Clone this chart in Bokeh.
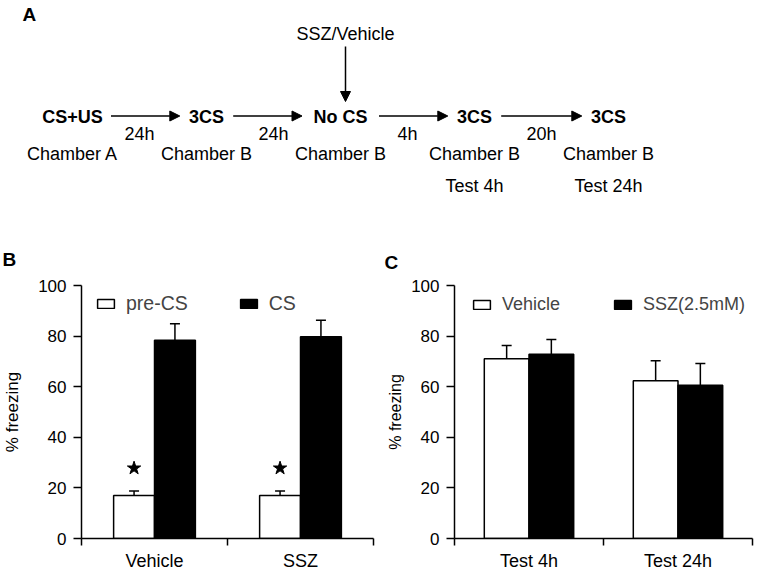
from bokeh.plotting import figure
from bokeh.models import (Range1d, FixedTicker, ColumnDataSource, Whisker, TeeHead,
                          Arrow, NormalHead, Legend, LegendItem)
from bokeh.layouts import column, row
from bokeh.embed import file_html
from bokeh.resources import INLINE
from bokeh.core.properties import value

FONT = "Liberation Sans"

# ---------------- data ----------------
# Panel A (protocol diagram)
steps = ["CS+US", "3CS", "No CS", "3CS", "3CS"]
intervals = ["24h", "24h", "4h", "20h"]
chambers = ["Chamber A", "Chamber B", "Chamber B", "Chamber B", "Chamber B"]
tests = ["", "", "", "Test 4h", "Test 24h"]
treatment = "SSZ/Vehicle"
treatment_step = 2

# Panel B
b_groups = ["Vehicle", "SSZ"]
b_pre = [17.0, 17.0]
b_pre_err = [1.8, 1.8]
b_cs = [78.4, 79.7]
b_cs_err = [6.5, 6.6]
b_sig = [True, True]
b_series = ["pre-CS", "CS"]

# Panel C
c_groups = ["Test 4h", "Test 24h"]
c_vehicle = [71.0, 62.4]
c_vehicle_err = [5.3, 7.9]
c_ssz = [72.8, 60.6]
c_ssz_err = [5.9, 8.6]
c_series = ["Vehicle", "SSZ(2.5mM)"]

y_ticks = [0, 20, 40, 60, 80, 100]
y_label = "% freezing"
panel_letters = ["A", "B", "C"]

# ---------------- panel A (also carries the B / C letters) ----------------
WA, HA = 768, 275
pa = figure(width=WA, height=HA, x_range=Range1d(0, WA), y_range=Range1d(HA, 0),
            output_backend="svg", toolbar_location=None, min_border=0,
            x_axis_location=None, y_axis_location=None)
pa.grid.visible = False
pa.outline_line_color = None

X0, DX = 72, 134
sx = [X0 + i * DX for i in range(len(steps))]
Y_STEP, Y_INT, Y_CH, Y_TEST = 116.5, 133, 153.5, 185.5
half = [len(s) * 5.9 + 9 for s in steps]   # half text width + gap

common = dict(text_font=value(FONT), text_align="center", text_baseline="middle",
              text_color="black")
pa.text(x=sx, y=[Y_STEP] * len(steps), text=steps, text_font_style="bold",
        text_font_size="18px", **common)
mid = [(sx[i] + sx[i + 1]) / 2 for i in range(len(intervals))]
pa.text(x=mid, y=[Y_INT] * len(intervals), text=intervals, text_font_size="18px", **common)
pa.text(x=sx, y=[Y_CH] * len(chambers), text=chambers, text_font_size="18px", **common)
pa.text(x=sx, y=[Y_TEST] * len(tests), text=tests, text_font_size="18px", **common)

arr_src = ColumnDataSource(dict(
    x0=[sx[i] + half[i] for i in range(len(intervals))],
    x1=[sx[i + 1] - half[i + 1] for i in range(len(intervals))],
    y0=[Y_STEP - 1] * len(intervals), y1=[Y_STEP - 1] * len(intervals)))
pa.add_layout(Arrow(source=arr_src, x_start="x0", y_start="y0", x_end="x1", y_end="y1",
                    line_width=1.5, line_color="black",
                    end=NormalHead(size=10, fill_color="black", line_color="black")))
tx = sx[treatment_step] + 5
pa.add_layout(Arrow(x_start=tx, y_start=46, x_end=tx, y_end=101, line_width=1.5,
                    line_color="black",
                    end=NormalHead(size=10, fill_color="black", line_color="black")))
pa.text(x=[tx], y=[33], text=[treatment], text_font_size="18px", **common)

# panel letters
pa.text(x=[22, 2, 384], y=[14, 259, 262], text=panel_letters, text_font=value(FONT),
        text_font_style="bold", text_font_size="19px", text_baseline="middle",
        text_align="left", text_color="black")


# ---------------- bar panels ----------------
W, H = 384, 301
TOP, BOTTOM = 10, 38


def bar_panel(groups, s1, e1, s2, e2, names, bw, lr, leg, ylab, sig=None):
    left, right = lr
    n = len(groups)
    p = figure(width=W, height=H, x_range=Range1d(-0.5, n - 0.5),
               y_range=Range1d(0, 100), output_backend="svg", toolbar_location=None,
               min_border_left=left, min_border_right=right, min_border_top=TOP,
               min_border_bottom=BOTTOM)
    p.grid.visible = False
    p.outline_line_color = None
    idx = list(range(n))
    src = ColumnDataSource(dict(
        xa=[i - bw / 2 for i in idx], xb=[i + bw / 2 for i in idx],
        a=s1, b=s2,
        ahi=[v + e for v, e in zip(s1, e1)], bhi=[v + e for v, e in zip(s2, e2)]))
    ra = p.vbar(x="xa", top="a", width=bw, fill_color="white", line_color="black",
                line_width=1.5, source=src)
    rb = p.vbar(x="xb", top="b", width=bw, fill_color="black", line_color="black",
                line_width=1.5, source=src)
    for lo, hi, xx in (("a", "ahi", "xa"), ("b", "bhi", "xb")):
        p.add_layout(Whisker(source=src, base=xx, lower=lo, upper=hi, line_width=1.5,
                             line_color="black",
                             upper_head=TeeHead(size=10, line_width=1.5, line_color="black"),
                             lower_head=None))
    if sig is not None:
        sx_ = [src.data["xa"][i] for i in idx if sig[i]]
        sy_ = [src.data["ahi"][i] + 9 for i in idx if sig[i]]
        p.scatter(x=sx_, y=sy_, marker="star", size=14, color="black")

    loc, fsize, spacing = leg
    legend = Legend(items=[LegendItem(label=names[0], renderers=[ra]),
                           LegendItem(label=names[1], renderers=[rb])],
                    orientation="horizontal", location=loc, glyph_width=21,
                    glyph_height=11, label_height=11, label_standoff=10, spacing=spacing,
                    padding=0, margin=0, border_line_color=None, background_fill_alpha=0,
                    label_text_font=FONT, label_text_font_size=fsize)
    p.add_layout(legend)

    ya = p.yaxis[0]
    ya.ticker = FixedTicker(ticks=y_ticks, minor_ticks=[])
    ya.major_tick_out = 8
    ya.major_tick_in = 0
    ya.minor_tick_line_color = None
    ya.major_label_text_font = FONT
    ya.major_label_text_font_size = "17px"
    ya.major_label_standoff = 7
    ya.axis_label = y_label
    ya.axis_label_text_font = FONT
    ya.axis_label_text_font_size = ylab[0]
    ya.axis_label_text_font_style = "normal"
    ya.axis_label_standoff = ylab[1]

    xa = p.xaxis[0]
    xa.ticker = FixedTicker(ticks=idx, minor_ticks=[i - 0.5 for i in idx] + [idx[-1] + 0.5])
    xa.major_label_overrides = {i: g for i, g in zip(idx, groups)}
    xa.major_tick_out = 0
    xa.major_tick_in = 0
    xa.major_tick_line_color = None
    xa.minor_tick_out = 7
    xa.minor_tick_in = 0
    xa.minor_tick_line_color = "black"
    xa.minor_tick_line_width = 1.5
    xa.major_label_text_font = FONT
    xa.major_label_text_font_size = "18px"
    xa.major_label_standoff = 5

    for ax in (xa, ya):
        ax.axis_line_width = 1.5
        ax.major_tick_line_width = 1.5
        ax.axis_line_color = "black"
        ax.major_label_text_color = "black"
        ax.axis_label_text_color = "black"
    return p


FH = H - TOP - BOTTOM
pb = bar_panel(b_groups, b_pre, b_pre_err, b_cs, b_cs_err, b_series, 0.28,
               (77, 11), ((14, FH - 30), "19.5px", 50), ("17px", 13), sig=b_sig)
pc = bar_panel(c_groups, c_vehicle, c_vehicle_err, c_ssz, c_ssz_err, c_series, 0.30,
               (67, 16), ((17, FH - 30), "18px", 52), ("16px", 4))

layout = column(pa, row(pb, pc))
open("out.html", "w").write(file_html(layout, INLINE))
